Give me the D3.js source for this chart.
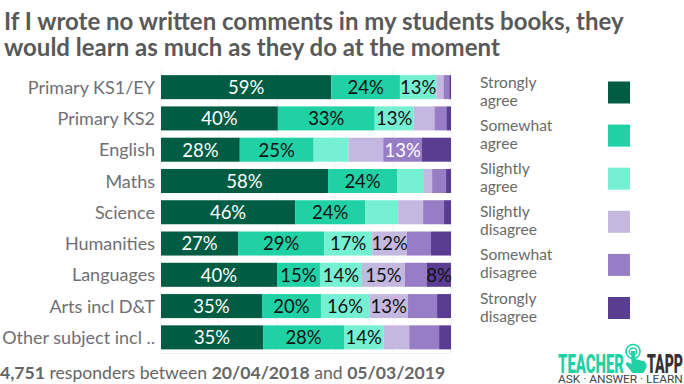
<!DOCTYPE html>
<html><head><meta charset="utf-8">
<script src="https://cdnjs.cloudflare.com/ajax/libs/d3/7.8.5/d3.min.js"></script>
<style>html,body{margin:0;background:#fff}svg{display:block;font-family:Lato,sans-serif}</style>
</head><body><svg id="c" width="684" height="384"></svg>
<script>
const categories=["Primary KS1/EY","Primary KS2","English","Maths","Science","Humanities","Languages","Arts incl D&T","Other subject incl .."];
const seriesNames=["Strongly agree","Somewhat agree","Slightly agree","Slightly disagree","Somewhat disagree","Strongly disagree"];
const stronglyAgree=[59,40.3,27.2,57.6,46.2,26.6,40,34.8,35.2];
const somewhatAgree=[23.8,33.4,25.5,23.8,24.1,29.7,14.8,20.3,27.9];
const slightlyAgree=[12.6,13.4,12,9,11.4,16.6,14.5,16.6,13.6];
const slightlyDisagree=[2.5,7.2,12,3.1,8.6,12,14.8,13.4,8.9];
const somewhatDisagree=[2,4.1,13.4,4.8,7.2,8.3,7.6,10,10.3];
const stronglyDisagree=[0.6,1.6,10,1.7,2.4,6.9,8.3,4.8,4.1];
const labelsAgree1=["59%","40%","28%","58%","46%","27%","40%","35%","35%"];
const labelsAgree2=["24%","33%","25%","24%","24%","29%","15%","20%","28%"];
const labelsAgree3=["13%","13%","","","","17%","14%","16%","14%"];
const labelsDis1=["","","","","","12%","15%","13%",""];
const labelsDis2=["","","13%","","","","","",""];
const labelsDis3=["","","","","","","8%","",""];
const colors=["#005c43","#1fd1a5","#76f0d2","#c5b8e0","#977dc5","#5a3d92"];
const labelColors=["#fff","#111","#111","#111","#fff","#111"];
const tickValues=[0,20,40,60,80,100];
const responders="4,751",dateFrom="20/04/2018",dateTo="05/03/2019";

const series=[stronglyAgree,somewhatAgree,slightlyAgree,slightlyDisagree,somewhatDisagree,stronglyDisagree];
const labels=[labelsAgree1,labelsAgree2,labelsAgree3,labelsDis1,labelsDis2,labelsDis3];
const rows=categories.map((c,i)=>{const o={cat:c};seriesNames.forEach((s,j)=>o[s]=series[j][i]);return o;});
const stacked=d3.stack().keys(seriesNames).offset(d3.stackOffsetExpand)(rows);

const svg=d3.select("#c");
const x=d3.scaleLinear().domain([0,1]).range([161,451]);
const y=d3.scaleBand().domain(categories).range([71.5,353]).paddingInner(0.232).paddingOuter(0.116);

svg.append("g").selectAll("line").data(tickValues).join("line")
  .attr("x1",d=>x(d/100)).attr("x2",d=>x(d/100)).attr("y1",70).attr("y2",353)
  .attr("stroke","#f1f1f1");
svg.append("line").attr("x1",161).attr("x2",451).attr("y1",353.5).attr("y2",353.5).attr("stroke","#eee");

const axis=d3.axisLeft(y).tickSize(0).tickPadding(6);
const ag=svg.append("g").attr("transform","translate(161,0.8)").call(axis);
ag.select(".domain").remove();
ag.selectAll("text").attr("font-size",18).attr("font-family","Lato").attr("fill","#6f6f73");

stacked.forEach((s,j)=>{
  const g=svg.append("g");
  g.selectAll("rect").data(s).join("rect")
    .attr("x",d=>x(d[0])).attr("width",d=>x(d[1])-x(d[0]))
    .attr("y",d=>y(d.data.cat)).attr("height",y.bandwidth()).attr("fill",colors[j]);
  g.selectAll("text").data(s).join("text")
    .attr("x",d=>(x(d[0])+x(d[1]))/2).attr("y",d=>y(d.data.cat)+y.bandwidth()/2+6.9)
    .attr("text-anchor","middle").attr("font-size",18.5).attr("fill",labelColors[j])
    .text((d,i)=>labels[j][i]);
});

svg.append("g").selectAll("text").data(["If I wrote no written comments in my students books, they","would learn as much as they do at the moment"]).join("text")
  .attr("x",4).attr("y",(d,i)=>30+i*26).attr("font-size",24).attr("font-weight",700).attr("fill","#595959").text(d=>d);

const lg=svg.append("g").selectAll("g").data(seriesNames).join("g")
  .attr("transform",(d,i)=>`translate(0,${i*43.1})`);
lg.append("rect").attr("x",608).attr("y",81.5).attr("width",22).attr("height",22).attr("fill",(d,i)=>colors[i]);
lg.each(function(d){
  const w=d.split(" ");
  d3.select(this).selectAll("text").data(w).join("text").attr("x",480).attr("y",(t,i)=>88+i*18)
    .attr("font-size",15.6).attr("fill","#6a6a6a").text(t=>t);
});

const foot=svg.append("text").attr("x",0).attr("y",379).attr("font-size",17.6).attr("fill","#666");
[[responders,700],[" responders between ",400],[dateFrom,700],[" and ",400],[dateTo,700]].forEach(p=>{
  foot.append("tspan").attr("font-weight",p[1]).attr("xml:space","preserve").text(p[0]);
});

const logo=svg.append("g");
function fit(t,x0,base,size,width,fill,weight){
  const n=logo.append("text").attr("font-family","Roboto").attr("font-weight",weight).attr("font-size",size).attr("fill",fill).text(t);
  const w=n.node().getComputedTextLength();
  n.attr("transform",`translate(${x0},${base}) scale(${width/w},1)`);
}
fit("TEACHER",558,373,25,66,"#1fd1a5",900);
fit("TAPP",647,373,25,36,"#333",900);
fit("ASK · ANSWER · LEARN",558,382.5,10,125,"#444",400);
logo.append("circle").attr("cx",633).attr("cy",351.5).attr("r",7).attr("fill","none").attr("stroke","#1fd1a5").attr("stroke-width",1.6);
logo.append("circle").attr("cx",633).attr("cy",351.5).attr("r",3.6).attr("fill","none").attr("stroke","#1fd1a5").attr("stroke-width",1.5);
logo.append("path").attr("d","M631 351 h4 v8 l10 2.5 l1.5 3 v3 l-3 5.5 h-11 l-7 -9 l2 -2 l4 2 z").attr("fill","#1fd1a5");
</script></body></html>
